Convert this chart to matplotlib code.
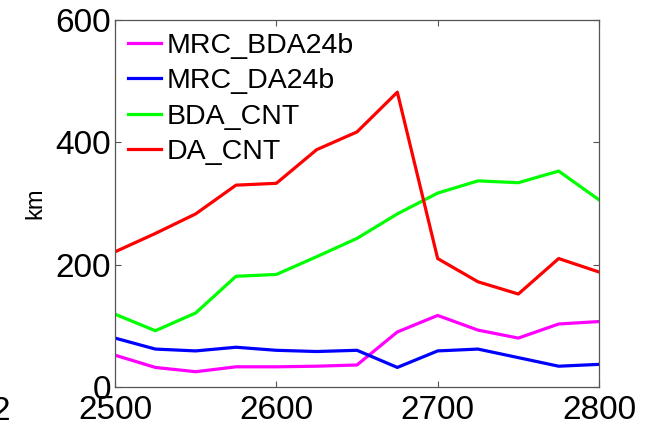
import numpy as np
import matplotlib
matplotlib.use('Agg')
import matplotlib.pyplot as plt

plt.rcParams['font.family'] = ['Liberation Sans', 'DejaVu Sans']

# distance along x and errors in km
xdist = [2500, 2525, 2550, 2575, 2600, 2625, 2650, 2675, 2700, 2725, 2750, 2775, 2800]
mrc_bda24b = [52, 32, 25, 33, 33, 34, 36, 90, 117, 93, 80, 103, 107]
mrc_da24b = [80, 62, 59, 65, 60, 58, 60, 32, 59, 62, 48, 34, 37]
bda_cnt = [119, 92, 121, 181, 184, 213, 243, 283, 317, 337, 334, 353, 306]
da_cnt = [221, 251, 283, 330, 333, 388, 417, 482, 210, 172, 152, 210, 188]

labels = ['MRC_BDA24b', 'MRC_DA24b', 'BDA_CNT', 'DA_CNT']
colors = ['#ff00ff', '#0000ff', '#00ff00', '#ff0000']
series = [mrc_bda24b, mrc_da24b, bda_cnt, da_cnt]

fig = plt.figure(figsize=(6.5, 4.3), dpi=100)
ax = fig.add_axes([115/650, 43/430, 484/650, 367/430])
for s, c, l in zip(series, colors, labels):
    ax.plot(xdist, s, color=c, lw=2.3, label=l)

ax.set_xlim(2500, 2800)
ax.set_ylim(0, 600)
ax.set_xticks([2500, 2600, 2700, 2800])
ax.set_yticks([0, 200, 400, 600])
ax.tick_params(direction='in', length=4, width=0.8, color='#555555',
               labelsize=24, top=True, right=True)
ax.tick_params(axis='x', pad=6)
ax.tick_params(axis='y', pad=3)
for sp in ax.spines.values():
    sp.set_color('#555555')
    sp.set_linewidth(0.9)
ax.set_ylabel('km', fontsize=17, labelpad=6)

leg = ax.legend(loc='upper left', frameon=False, fontsize=20.5, handlelength=1.15,
                handletextpad=0.2, labelspacing=0.33, borderpad=0,
                borderaxespad=0, bbox_to_anchor=(13/484, 1 - 13/367))

# clipped label from neighbouring panel
fig.text(10/650, 1 - 412/430, '2', fontsize=24, ha='right', va='center')

fig.savefig('out.png', dpi=100)
